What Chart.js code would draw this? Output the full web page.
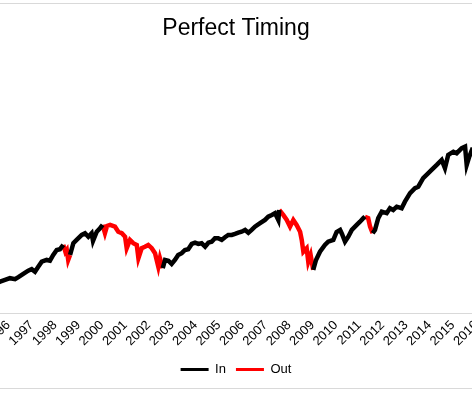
<!DOCTYPE html>
<html>
<head>
<meta charset="utf-8">
<title>Perfect Timing</title>
<script src="https://cdn.jsdelivr.net/npm/chart.js@4/dist/chart.umd.min.js"></script>
<style>
    html, body {
        margin: 0;
        padding: 0;
        width: 472px;
        height: 394px;
        overflow: hidden;
        background: #fff;
    }
    #frame {
        position: absolute;
        left: 0;
        top: 3px;
        width: 472px;
        height: 386px;
        box-sizing: border-box;
        border-top: 1px solid #d9d9d9;
        border-bottom: 1px solid #d9d9d9;
    }
    #wrap {
        position: absolute;
        left: -44px;
        top: 0;
        width: 560px;
        height: 394px;
    }
</style>
</head>
<body>
<div id="frame"></div>
<div id="wrap"><canvas id="timingChart" width="560" height="394"></canvas></div>
<script>
// Chart data (decimal years, growth index)
const dates = [
    1995.60, 1995.65, 1995.86, 1996.07, 1996.29, 1996.43, 1996.64, 1996.85,
    1997.00, 1997.14, 1997.28, 1997.43, 1997.64, 1997.78, 1997.92, 1998.07,
    1998.21, 1998.35, 1998.44, 1998.50, 1998.56, 1998.64, 1998.78, 1998.92,
    1999.14, 1999.28, 1999.42, 1999.56, 1999.62, 1999.78, 1999.92, 2000.03,
    2000.13, 2000.22, 2000.35, 2000.56, 2000.70, 2000.85, 2000.99, 2001.06,
    2001.20, 2001.34, 2001.49, 2001.56, 2001.70, 2001.84, 2001.98, 2002.13,
    2002.27, 2002.41, 2002.48, 2002.60, 2002.70, 2002.84, 2002.98, 2003.12,
    2003.26, 2003.41, 2003.55, 2003.69, 2003.84, 2003.98, 2004.12, 2004.26,
    2004.41, 2004.55, 2004.69, 2004.83, 2004.97, 2005.12, 2005.26, 2005.40,
    2005.55, 2005.69, 2005.83, 2005.97, 2006.12, 2006.26, 2006.40, 2006.54,
    2006.76, 2006.97, 2007.11, 2007.26, 2007.40, 2007.54, 2007.58, 2007.75,
    2007.90, 2008.04, 2008.18, 2008.32, 2008.47, 2008.54, 2008.61, 2008.75,
    2008.82, 2008.92, 2009.03, 2009.15, 2009.32, 2009.53, 2009.67, 2009.89,
    2010.03, 2010.18, 2010.26, 2010.39, 2010.53, 2010.68, 2010.89, 2011.03,
    2011.17, 2011.24, 2011.38, 2011.46, 2011.57, 2011.67, 2011.81, 2011.96,
    2012.17, 2012.31, 2012.45, 2012.60, 2012.81, 2012.95, 2013.17, 2013.38,
    2013.52, 2013.73, 2013.95, 2014.09, 2014.31, 2014.52, 2014.66, 2014.80,
    2015.02, 2015.16, 2015.38, 2015.52, 2015.59, 2015.70, 2015.85
];

const values = [
    1.38, 1.40, 1.47, 1.54, 1.50, 1.58, 1.71, 1.84,
    1.90, 1.80, 2.00, 2.20, 2.27, 2.24, 2.47, 2.67,
    2.70, 2.87, 2.59, 2.67, 2.27, 2.47, 2.94, 3.07,
    3.27, 3.34, 3.20, 3.34, 3.03, 3.40, 3.54, 3.67,
    3.34, 3.63, 3.67, 3.60, 3.40, 3.34, 3.20, 2.74,
    3.07, 2.94, 2.87, 2.34, 2.74, 2.80, 2.87, 2.74,
    2.54, 2.00, 2.34, 1.94, 2.27, 2.24, 2.11, 2.27,
    2.47, 2.54, 2.67, 2.70, 2.91, 2.96, 2.91, 2.94,
    2.80, 2.96, 3.00, 3.14, 3.14, 3.07, 3.18, 3.27,
    3.27, 3.31, 3.36, 3.40, 3.47, 3.36, 3.47, 3.60,
    3.74, 3.87, 4.00, 4.07, 4.14, 3.87, 4.27, 4.07,
    3.87, 3.60, 3.87, 3.67, 3.40, 3.07, 2.60, 2.74,
    2.20, 2.47, 1.87, 2.27, 2.60, 2.87, 3.00, 3.07,
    3.39, 3.47, 3.31, 3.00, 3.20, 3.47, 3.67, 3.80,
    3.94, 4.00, 3.94, 3.60, 3.34, 3.47, 3.94, 4.20,
    4.14, 4.34, 4.27, 4.40, 4.34, 4.60, 4.94, 5.14,
    5.20, 5.54, 5.74, 5.87, 6.07, 6.27, 5.94, 6.47,
    6.60, 6.54, 6.74, 6.80, 6.07, 6.40, 6.76
];

// Periods spent out of the market [start, end]
const outPeriods = [
    [1998.35, 1998.64],
    [2000.03, 2002.60],
    [2007.58, 2009.03],
    [2011.24, 2011.57]
];

const seriesNames = ['In', 'Out'];
const seriesColors = ['#000000', '#ff0000'];
const tickYears = [1996, 1997, 1998, 1999, 2000, 2001, 2002, 2003, 2004, 2005,
    2006, 2007, 2008, 2009, 2010, 2011, 2012, 2013, 2014, 2015, 2016];

// Axis placement on the page
const CANVAS_LEFT = -44;
const YEAR_1997_X = 31.7;
const PX_PER_YEAR = 23.4;
const AXIS_Y = 316.7;
const PX_PER_UNIT = 25;

const FONT = "'Liberation Sans', Arial, Helvetica, sans-serif";

document.addEventListener('DOMContentLoaded', function() {
    Chart.defaults.font.family = FONT;
    Chart.defaults.color = '#000';
    const chart = buildChart();
    calibrateAxes(chart);
});

function isOut(date, inclusive) {
    return outPeriods.some(p => inclusive
        ? (date >= p[0] && date <= p[1])
        : (date > p[0] && date < p[1]));
}

function buildSeries() {
    const inData = dates.map((d, i) => ({ x: d, y: isOut(d, false) ? null : values[i] }));
    const outData = dates.map((d, i) => ({ x: d, y: isOut(d, true) ? values[i] : null }));
    return [inData, outData];
}

function buildChart() {
    const ctx = document.getElementById('timingChart');
    const series = buildSeries();

    return new Chart(ctx, {
        type: 'line',
        data: {
            datasets: series.map((data, i) => ({
                label: seriesNames[i],
                data: data,
                borderColor: seriesColors[i],
                backgroundColor: seriesColors[i],
                borderWidth: 4.5,
                borderJoinStyle: 'miter',
                pointRadius: 0,
                tension: 0,
                spanGaps: false
            }))
        },
        options: {
            responsive: false,
            animation: false,
            layout: { padding: { top: 0, bottom: 8, left: 0, right: 0 } },
            plugins: {
                title: {
                    display: true,
                    text: 'Perfect Timing',
                    fullSize: false,
                    color: '#000',
                    font: { size: 23, weight: 'normal', family: FONT },
                    padding: { top: 15, bottom: 10 }
                },
                legend: {
                    position: 'bottom',
                    labels: {
                        boxWidth: 28,
                        boxHeight: 3,
                        padding: 10,
                        color: '#000',
                        font: { size: 13, family: FONT },
                        generateLabels: function(chart) {
                            const items = Chart.defaults.plugins.legend.labels.generateLabels(chart);
                            items.forEach(item => { item.lineWidth = 0; });
                            return items;
                        }
                    }
                },
                tooltip: { enabled: false }
            },
            scales: {
                x: {
                    type: 'linear',
                    min: 1993.7,
                    max: 2017.5,
                    grid: { display: false, drawTicks: false },
                    border: { display: true, color: '#d9d9d9', width: 1 },
                    afterBuildTicks: function(scale) {
                        scale.ticks = tickYears.map(y => ({ value: y }));
                    },
                    ticks: {
                        autoSkip: false,
                        minRotation: 45,
                        maxRotation: 45,
                        padding: 4,
                        color: '#000',
                        font: { size: 13, family: FONT },
                        callback: value => String(value)
                    }
                },
                y: {
                    display: false,
                    min: 0,
                    max: 8
                }
            }
        }
    });
}

// Line the scales up with the page position of the axis
function screenToYear(x) {
    return 1997 + (x - YEAR_1997_X) / PX_PER_YEAR;
}

function calibrateAxes(chart) {
    for (let pass = 0; pass < 2; pass++) {
        const area = chart.chartArea;
        chart.options.scales.x.min = screenToYear(area.left + CANVAS_LEFT);
        chart.options.scales.x.max = screenToYear(area.right + CANVAS_LEFT);
        chart.options.scales.y.min = (AXIS_Y - area.bottom) / PX_PER_UNIT;
        chart.options.scales.y.max = (AXIS_Y - area.top) / PX_PER_UNIT;
        chart.update();
    }
}
</script>
</body>
</html>
